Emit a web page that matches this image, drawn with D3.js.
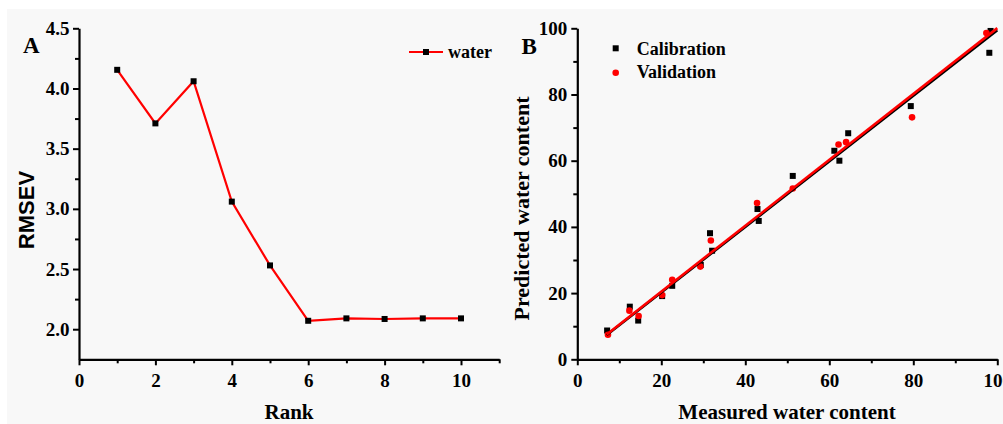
<!DOCTYPE html>
<html>
<head>
<meta charset="utf-8">
<script src="https://cdn.jsdelivr.net/npm/d3@7"></script>
<style>
  body { margin: 0; background: #fff; }
  svg text { font-family: "Liberation Serif", "Times New Roman", serif; font-weight: bold; fill: #000; }
</style>
</head>
<body>
<div id="vis"></div>
<script>
// panel A : RMSEV by rank
var rank = [1, 2, 3, 4, 5, 6, 7, 8, 9, 10];
var rmsev = [4.155, 3.71, 4.06, 3.06, 2.53, 2.07, 2.09, 2.085, 2.09, 2.09];

// panel B : measured vs predicted
var calMeasured  = [7.1, 12.5, 14.5, 20.2, 22.6, 29.4, 31.6, 32.1, 42.9, 43.2, 51.3, 61.2, 62.4, 64.5, 79.4, 98.1, 98.4];
var calPredicted = [8.7, 15.9, 11.7, 19.1, 22.2, 28.5, 38.1, 32.8, 45.4, 41.8, 55.4, 63.0, 60.0, 68.3, 76.5, 92.6, 99.2];
var valMeasured  = [7.3, 12.4, 14.6, 20.2, 22.6, 29.3, 31.8, 42.8, 51.3, 62.2, 64.0, 79.7, 97.4];
var valPredicted = [7.4, 14.7, 13.1, 19.4, 24.0, 28.0, 35.9, 47.2, 51.6, 64.9, 65.6, 73.1, 98.6];

// fitted lines: [slope, intercept] and x range
var calFit = [0.99, 0.4];
var valFit = [0.995, 0.55];
var fitRange = [7, 100];

var W = 1003, H = 424;
var svg = d3.select("#vis").append("svg")
  .attr("width", W).attr("height", H);

svg.append("rect")
  .attr("x", 7).attr("y", 9)
  .attr("width", W - 7).attr("height", H - 9)
  .attr("fill", "#f8f8f8");

// draws an axis with major (labelled) and minor ticks
function drawAxis(g, orient, scale, major, minor, fmt, pad) {
  var mk = orient === "bottom" ? d3.axisBottom : d3.axisLeft;
  var m = g.append("g").call(mk(scale).tickValues(minor).tickSize(4).tickFormat(""));
  m.select(".domain").remove();
  var a = g.append("g").call(mk(scale).tickValues(major).tickSize(6).tickSizeOuter(0).tickPadding(pad).tickFormat(fmt));
  g.selectAll(".domain").attr("stroke-width", 2.2);
  g.selectAll(".tick line").attr("stroke-width", 2);
  a.selectAll("text").style("font-size", "19px");
}

// ---------- panel A ----------
var xA = d3.scaleLinear().domain([0, 11]).range([79, 499.2]);
var yA = d3.scaleLinear().domain([1.75, 4.5]).range([359.3, 28.3]);

var gA = svg.append("g");
drawAxis(gA.append("g").attr("transform", "translate(0," + yA.range()[0] + ")"),
  "bottom", xA, [0, 2, 4, 6, 8, 10], [1, 3, 5, 7, 9, 11], d3.format("d"), 8);
drawAxis(gA.append("g").attr("transform", "translate(" + xA.range()[0] + ",0)"),
  "left", yA, [2.0, 2.5, 3.0, 3.5, 4.0, 4.5], [2.25, 2.75, 3.25, 3.75, 4.25], d3.format(".1f"), 3.5);

gA.append("path")
  .datum(rank.map(function(r, i) { return [r, rmsev[i]]; }))
  .attr("fill", "none")
  .attr("stroke", "#ff0000")
  .attr("stroke-width", 2.2)
  .attr("d", d3.line().x(function(d) { return xA(d[0]); }).y(function(d) { return yA(d[1]); }));

gA.selectAll("rect.pt")
  .data(rank)
  .enter().append("rect")
  .attr("class", "pt")
  .attr("x", function(d) { return xA(d) - 3; })
  .attr("y", function(d, i) { return yA(rmsev[i]) - 3; })
  .attr("width", 6).attr("height", 6)
  .attr("fill", "#000");

gA.append("text")
  .attr("x", 289).attr("y", 419)
  .attr("text-anchor", "middle")
  .style("font-size", "21px")
  .text("Rank");

gA.append("text")
  .attr("transform", "translate(34,210) rotate(-90)")
  .attr("text-anchor", "middle")
  .style("font-family", "'Liberation Sans', Arial, sans-serif")
  .style("font-size", "22px")
  .text("RMSEV");

gA.append("text")
  .attr("x", 23).attr("y", 53)
  .style("font-size", "23px")
  .text("A");

// legend A
gA.append("line")
  .attr("x1", 409).attr("x2", 443).attr("y1", 52).attr("y2", 52)
  .attr("stroke", "#ff0000").attr("stroke-width", 2.2);
gA.append("rect")
  .attr("x", 423).attr("y", 49).attr("width", 6).attr("height", 6)
  .attr("fill", "#000");
gA.append("text")
  .attr("x", 448).attr("y", 58)
  .style("font-size", "18px")
  .text("water");

// ---------- panel B ----------
var xB = d3.scaleLinear().domain([0, 100]).range([577.3, 997.3]);
var yB = d3.scaleLinear().domain([0, 100]).range([359.3, 28.3]);

var gB = svg.append("g");
drawAxis(gB.append("g").attr("transform", "translate(0," + yB.range()[0] + ")"),
  "bottom", xB, [0, 20, 40, 60, 80, 100], [10, 30, 50, 70, 90], d3.format("d"), 8);
drawAxis(gB.append("g").attr("transform", "translate(" + xB.range()[0] + ",0)"),
  "left", yB, [0, 20, 40, 60, 80, 100], [10, 30, 50, 70, 90], d3.format("d"), 4);

gB.selectAll("rect.cal")
  .data(calMeasured)
  .enter().append("rect")
  .attr("class", "cal")
  .attr("x", function(d) { return xB(d) - 3; })
  .attr("y", function(d, i) { return yB(calPredicted[i]) - 3; })
  .attr("width", 6).attr("height", 6)
  .attr("fill", "#000");

gB.selectAll("circle.val")
  .data(valMeasured)
  .enter().append("circle")
  .attr("class", "val")
  .attr("cx", function(d) { return xB(d); })
  .attr("cy", function(d, i) { return yB(valPredicted[i]); })
  .attr("r", 3.3)
  .attr("fill", "#ff0000");

function fitLine(fit, color) {
  gB.append("line")
    .attr("x1", xB(fitRange[0])).attr("y1", yB(fit[0] * fitRange[0] + fit[1]))
    .attr("x2", xB(fitRange[1])).attr("y2", yB(fit[0] * fitRange[1] + fit[1]))
    .attr("stroke", color).attr("stroke-width", 2.6);
}
fitLine(calFit, "#000");
fitLine(valFit, "#ff0000");

gB.append("text")
  .attr("x", 787).attr("y", 419)
  .attr("text-anchor", "middle")
  .style("font-size", "21px")
  .text("Measured water content");

gB.append("text")
  .attr("transform", "translate(529.3,208.5) rotate(-90)")
  .attr("text-anchor", "middle")
  .style("font-size", "22px")
  .text("Predicted water content");

gB.append("text")
  .attr("x", 521.5).attr("y", 54)
  .style("font-size", "23px")
  .text("B");

// legend B
gB.append("rect")
  .attr("x", 612.7).attr("y", 45.3).attr("width", 6).attr("height", 6)
  .attr("fill", "#000");
gB.append("text")
  .attr("x", 636.7).attr("y", 55)
  .style("font-size", "18px")
  .text("Calibration");
gB.append("circle")
  .attr("cx", 615.7).attr("cy", 72.7).attr("r", 3.3)
  .attr("fill", "#ff0000");
gB.append("text")
  .attr("x", 636.7).attr("y", 78)
  .style("font-size", "18px")
  .text("Validation");
</script>
</body>
</html>
